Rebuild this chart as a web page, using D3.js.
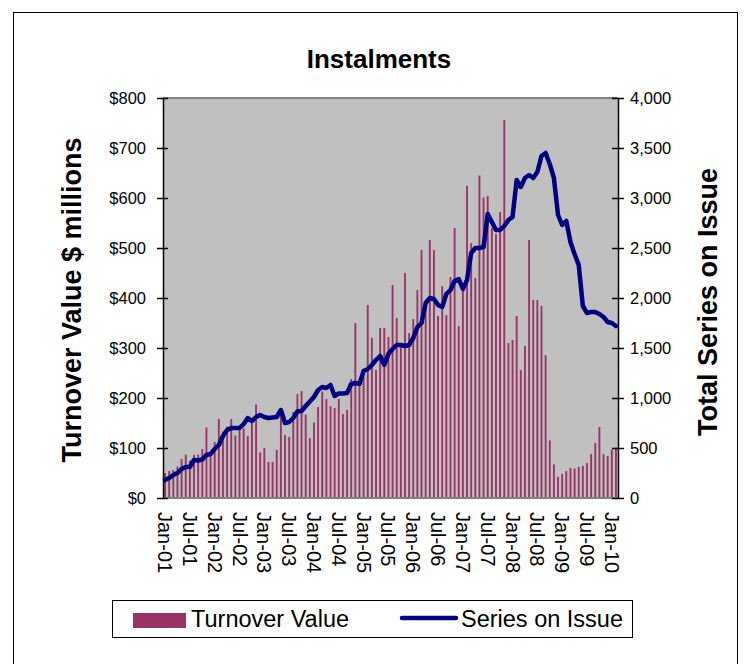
<!DOCTYPE html>
<html>
<head>
<meta charset="utf-8">
<script src="https://cdn.jsdelivr.net/npm/d3@7"></script>
<style>
body { margin: 0; background: #fff; }
text { font-family: Arial, "Liberation Sans", sans-serif; fill: #000; }
</style>
</head>
<body>
<svg width="751" height="664"></svg>
<script>
// monthly turnover value ($ millions), Jan-01 .. Feb-10
const turnover = [
  50, 54, 56, 63, 78, 87, 75, 86, 87, 98, 141, 88,
  112, 158, 133, 143, 158, 125, 136, 139, 124, 151, 187, 91,
  100, 72, 72, 96, 170, 126, 122, 172, 208, 214, 167, 120,
  151, 182, 213, 198, 184, 180, 198, 168, 176, 238, 350, 223,
  243, 386, 320, 256, 340, 340, 322, 426, 360, 305, 450, 330,
  358, 416, 496, 380, 516, 496, 364, 424, 366, 442, 540, 344,
  420, 624, 510, 440, 645, 601, 604, 540, 528, 572, 756, 310,
  316, 364, 256, 304, 516, 396, 396, 384, 286, 115, 67, 42,
  48, 54, 60, 59, 62, 64, 70, 88, 110, 142, 88, 84,
  97, 101
];

// total series on issue
const seriesOnIssue = [
  180, 200, 230, 250, 290, 310, 310, 380, 375, 385, 430, 440,
  490, 530, 620, 680, 700, 700, 700, 740, 800, 770, 810, 830,
  810, 800, 805, 810, 880, 750, 760, 800, 865, 870, 920, 965,
  1010, 1080, 1110, 1100, 1130, 1020, 1045, 1045, 1050, 1140, 1150, 1140,
  1270, 1290, 1330, 1380, 1420, 1330, 1440, 1490, 1530, 1530, 1520, 1530,
  1600, 1710, 1750, 1950, 2000, 1990, 1930, 1910, 2040, 2080, 2170, 2190,
  2090, 2180, 2450, 2500, 2500, 2510, 2840, 2760, 2680, 2680, 2720, 2780,
  2810, 3180, 3110, 3200, 3230, 3200, 3260, 3420, 3450, 3340, 3200, 2830,
  2730, 2770, 2560, 2440, 2330, 1920, 1850, 1860, 1860, 1840, 1810, 1760,
  1750, 1720
];

const months = d3.timeMonths(new Date(2001, 0, 1), new Date(2010, 2, 1))
  .map(d3.timeFormat("%b-%y"));
const xTickLabels = ["Jan-01", "Jul-01", "Jan-02", "Jul-02", "Jan-03", "Jul-03",
  "Jan-04", "Jul-04", "Jan-05", "Jul-05", "Jan-06", "Jul-06", "Jan-07", "Jul-07",
  "Jan-08", "Jul-08", "Jan-09", "Jul-09", "Jan-10"];
const leftTicks = [0, 100, 200, 300, 400, 500, 600, 700, 800];
const rightTicks = [0, 500, 1000, 1500, 2000, 2500, 3000, 3500, 4000];

let svg = d3.select("svg");
let plot = { left: 163, right: 618, top: 98, bottom: 498 };

// outer chart border
svg.append("rect")
  .attr("x", 13.5).attr("y", 12.5)
  .attr("width", 724).attr("height", 700)
  .attr("fill", "#fff").attr("stroke", "#000");

let x = d3.scaleBand()
  .domain(months)
  .range([plot.left, plot.right])
  .paddingInner(0.55)
  .paddingOuter(0.27);

let yLeft = d3.scaleLinear().domain([0, 800]).range([plot.bottom, plot.top]);
let yRight = d3.scaleLinear().domain([0, 4000]).range([plot.bottom, plot.top]);

// plot area
svg.append("rect")
  .attr("x", plot.left).attr("y", plot.top)
  .attr("width", plot.right - plot.left).attr("height", plot.bottom - plot.top)
  .attr("fill", "#c0c0c0");
svg.append("line")
  .attr("x1", plot.left).attr("x2", plot.right)
  .attr("y1", plot.top).attr("y2", plot.top)
  .attr("stroke", "#808080").attr("stroke-width", 2);

// bars
svg.append("g").selectAll("rect")
  .data(turnover)
  .enter()
  .append("rect")
  .attr("x", (d, i) => x(months[i]))
  .attr("width", x.bandwidth())
  .attr("y", d => yLeft(d))
  .attr("height", d => yLeft(0) - yLeft(d))
  .attr("fill", "#993366");

svg.append("line")
  .attr("x1", plot.left).attr("x2", plot.right)
  .attr("y1", plot.bottom).attr("y2", plot.bottom)
  .attr("stroke", "#808080").attr("stroke-width", 2);

// series line
let line = d3.line()
  .x((d, i) => x(months[i]) + x.bandwidth() / 2)
  .y(d => yRight(d));

svg.append("path")
  .datum(seriesOnIssue)
  .attr("d", line)
  .attr("fill", "none")
  .attr("stroke", "#000080")
  .attr("stroke-width", 4.5)
  .attr("stroke-linejoin", "round")
  .attr("stroke-linecap", "round");

// left axis
let leftAxis = svg.append("g")
  .attr("transform", `translate(${plot.left},0)`)
  .call(d3.axisLeft(yLeft).tickValues(leftTicks).tickFormat(d => "$" + d).tickSizeOuter(0));
leftAxis.select(".domain").attr("stroke", "#000").attr("stroke-width", 1.5);
leftAxis.selectAll(".tick line").attr("x1", -6).attr("x2", 5).attr("stroke-width", 1.5);
leftAxis.selectAll(".tick text")
  .attr("x", -17)
  .attr("font-size", 16.5)
  .attr("font-family", "Arial, 'Liberation Sans', sans-serif");

// right axis
let rightAxis = svg.append("g")
  .attr("transform", `translate(${plot.right},0)`)
  .call(d3.axisRight(yRight).tickValues(rightTicks).tickFormat(d3.format(",")).tickSizeOuter(0));
rightAxis.select(".domain").attr("stroke", "#000").attr("stroke-width", 1.5);
rightAxis.selectAll(".tick line").attr("x1", -6).attr("x2", 6).attr("stroke-width", 1.5);
rightAxis.selectAll(".tick text")
  .attr("x", 12)
  .attr("font-size", 16.5)
  .attr("font-family", "Arial, 'Liberation Sans', sans-serif");

// category axis
let bottomAxis = svg.append("g")
  .attr("transform", `translate(0,${plot.bottom})`)
  .call(d3.axisBottom(x).tickValues(xTickLabels).tickSize(0));
bottomAxis.select(".domain").remove();
bottomAxis.selectAll(".tick text")
  .attr("transform", "rotate(90)")
  .attr("text-anchor", "start")
  .attr("x", 14)
  .attr("y", 0)
  .attr("dy", "0.35em")
  .attr("font-size", 20)
  .attr("font-family", "Arial, 'Liberation Sans', sans-serif");

// titles
svg.append("text")
  .attr("x", 379).attr("y", 68)
  .attr("text-anchor", "middle")
  .attr("font-size", 26).attr("font-weight", "bold")
  .text("Instalments");

svg.append("text")
  .attr("transform", "translate(81,300) rotate(-90)")
  .attr("text-anchor", "middle")
  .attr("font-size", 27).attr("font-weight", "bold")
  .text("Turnover Value $ millions");

svg.append("text")
  .attr("transform", "translate(717,302) rotate(-90)")
  .attr("text-anchor", "middle")
  .attr("font-size", 27).attr("font-weight", "bold")
  .text("Total Series on Issue");

// legend
let legend = svg.append("g");
legend.append("rect")
  .attr("x", 112.5).attr("y", 600.5)
  .attr("width", 520).attr("height", 37)
  .attr("fill", "#fff").attr("stroke", "#000");
legend.append("rect")
  .attr("x", 133).attr("y", 613)
  .attr("width", 53).attr("height", 15)
  .attr("fill", "#993366");
legend.append("text")
  .attr("x", 191).attr("y", 627)
  .attr("font-size", 23.5)
  .text("Turnover Value");
legend.append("line")
  .attr("x1", 402).attr("x2", 456)
  .attr("y1", 618).attr("y2", 618)
  .attr("stroke", "#000080").attr("stroke-width", 4.5)
  .attr("stroke-linecap", "round");
legend.append("text")
  .attr("x", 461).attr("y", 627)
  .attr("font-size", 23.5)
  .text("Series on Issue");
</script>
</body>
</html>
